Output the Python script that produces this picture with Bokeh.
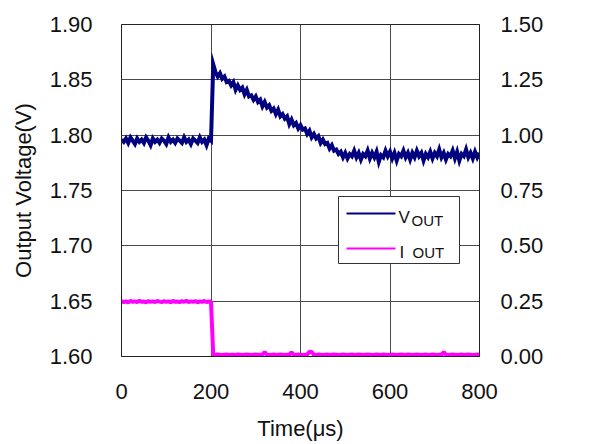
from bokeh.plotting import figure
from bokeh.models import (Range1d, LinearAxis, FixedTicker, NumeralTickFormatter,
                          BoxAnnotation, Label)
from bokeh.embed import file_html
from bokeh.resources import INLINE

# ---------------- data ----------------
time_us = list(range(0, 805, 5))

vout_v = [
    # 0 .. 200 us
    1.796, 1.794, 1.797, 1.793, 1.798, 1.795, 1.792, 1.797, 1.794, 1.796,
    1.793, 1.798, 1.795, 1.791, 1.797, 1.794, 1.796, 1.793, 1.797, 1.795,
    1.792, 1.798, 1.794, 1.796, 1.793, 1.797, 1.795, 1.793, 1.798, 1.794,
    1.796, 1.792, 1.797, 1.795, 1.793, 1.798, 1.794, 1.796, 1.791, 1.797,
    1.795,
    # 205 .. 485 us
    1.864, 1.857, 1.853, 1.856, 1.851, 1.853, 1.848, 1.849, 1.845, 1.848,
    1.841, 1.845, 1.841, 1.843, 1.837, 1.841, 1.835, 1.836, 1.832, 1.835,
    1.830, 1.832, 1.826, 1.830, 1.825, 1.827, 1.822, 1.824, 1.819, 1.823,
    1.817, 1.819, 1.815, 1.817, 1.810, 1.814, 1.809, 1.811, 1.806, 1.809,
    1.805, 1.806, 1.801, 1.804, 1.798, 1.801, 1.797, 1.799, 1.793, 1.796,
    1.792, 1.793, 1.788, 1.791, 1.786, 1.787, 1.783,
    # 490 .. 800 us
    1.785, 1.780, 1.784, 1.779, 1.783, 1.781, 1.786, 1.780, 1.784, 1.778,
    1.783, 1.781, 1.786, 1.779, 1.784, 1.780, 1.785, 1.776, 1.782, 1.780,
    1.786, 1.781, 1.785, 1.779, 1.784, 1.777, 1.783, 1.781, 1.786, 1.780,
    1.784, 1.778, 1.784, 1.780, 1.786, 1.781, 1.784, 1.777, 1.783, 1.780,
    1.785, 1.779, 1.784, 1.781, 1.787, 1.780, 1.784, 1.778, 1.783, 1.781,
    1.786, 1.779, 1.785, 1.777, 1.783, 1.781, 1.787, 1.780, 1.784, 1.779,
    1.785, 1.780, 1.784,
]

iout_a = [
    # 0 .. 200 us
    0.250, 0.246, 0.249, 0.245, 0.251, 0.247, 0.249, 0.246, 0.252, 0.247,
    0.248, 0.245, 0.250, 0.247, 0.249, 0.246, 0.251, 0.248, 0.246, 0.250,
    0.247, 0.249, 0.245, 0.251, 0.247, 0.248, 0.246, 0.250, 0.247, 0.252,
    0.246, 0.249, 0.247, 0.250, 0.245, 0.249, 0.247, 0.251, 0.246, 0.249,
    0.248,
    # 205 .. 800 us
    0.008, 0.007, 0.009, 0.008, 0.007, 0.008, 0.009, 0.007, 0.008, 0.008,
    0.007, 0.009, 0.008, 0.007, 0.008, 0.009, 0.008, 0.007, 0.008, 0.009,
    0.008, 0.007, 0.009, 0.020, 0.008, 0.007, 0.008, 0.009, 0.007, 0.008,
    0.009, 0.008, 0.007, 0.008, 0.009, 0.018, 0.008, 0.007, 0.009, 0.008,
    0.007, 0.008, 0.009, 0.022, 0.020, 0.008, 0.007, 0.009, 0.008, 0.007,
    0.008, 0.009, 0.007, 0.008, 0.009, 0.008, 0.007, 0.008, 0.009, 0.008,
    0.007, 0.008, 0.009, 0.007, 0.008, 0.009, 0.008, 0.007, 0.008, 0.009,
    0.008, 0.007, 0.008, 0.009, 0.008, 0.007, 0.009, 0.008, 0.007, 0.008,
    0.009, 0.008, 0.007, 0.008, 0.009, 0.008, 0.007, 0.009, 0.008, 0.007,
    0.008, 0.009, 0.008, 0.007, 0.008, 0.009, 0.007, 0.008, 0.009, 0.008,
    0.007, 0.008, 0.009, 0.020, 0.008, 0.007, 0.008, 0.009, 0.008, 0.007,
    0.008, 0.009, 0.007, 0.008, 0.009, 0.008, 0.007, 0.008, 0.009, 0.008,
]

x_ticks = [0, 200, 400, 600, 800]
v_ticks = [1.60, 1.65, 1.70, 1.75, 1.80, 1.85, 1.90]
i_ticks = [0.00, 0.25, 0.50, 0.75, 1.00, 1.25, 1.50]

x_label = "Time(μs)"
y_label = "Output Voltage(V)"

# ---------------- styling ----------------
FONT = "Liberation Sans"
TXT = "#111111"
NAVY = "#000080"
PINK = "#FF00FF"
GRID = "#4a4a4a"

X0, X1 = 0, 800
V0, V1 = 1.60, 1.90
I0, I1 = 0.0, 1.5

W, H = 588, 444
FL, FR, FT, FB = 121, 479, 24, 356   # frame edges on the page

p = figure(width=W, height=H, output_backend="svg", toolbar_location=None,
           x_range=Range1d(X0, X1), y_range=Range1d(V0, V1),
           min_border_left=FL, min_border_right=W - FR,
           min_border_top=FT, min_border_bottom=H - FB)
p.extra_y_ranges = {"cur": Range1d(I0, I1)}

p.outline_line_color = "#222222"
p.outline_line_width = 1
p.background_fill_color = "white"
p.border_fill_color = "white"

laxis = p.yaxis[0]
baxis = p.xaxis[0]
baxis.ticker = FixedTicker(ticks=x_ticks)
laxis.ticker = FixedTicker(ticks=v_ticks)
laxis.formatter = NumeralTickFormatter(format="0.00")
baxis.axis_label = x_label
laxis.axis_label = y_label

raxis = LinearAxis(y_range_name="cur", ticker=FixedTicker(ticks=i_ticks),
                   formatter=NumeralTickFormatter(format="0.00"))
p.add_layout(raxis, "right")

for ax in [baxis, laxis, raxis]:
    ax.major_tick_in = 0
    ax.major_tick_out = 0
    ax.minor_tick_in = 0
    ax.minor_tick_out = 0
    ax.axis_line_color = "#222222"
    ax.major_label_text_font = FONT
    ax.major_label_text_font_size = "22px"
    ax.major_label_text_color = TXT
    ax.axis_label_text_font = FONT
    ax.axis_label_text_font_size = "22px"
    ax.axis_label_text_font_style = "normal"
    ax.axis_label_text_color = TXT

baxis.major_label_standoff = 27
baxis.axis_label_standoff = 14
laxis.major_label_standoff = 29
laxis.axis_label_standoff = 11
raxis.major_label_standoff = 21

p.xgrid.ticker = FixedTicker(ticks=x_ticks)
p.ygrid.ticker = FixedTicker(ticks=v_ticks)
for g in [p.xgrid[0], p.ygrid[0]]:
    g.grid_line_color = GRID
    g.grid_line_width = 1
    g.grid_line_alpha = 1.0

# ---------------- data traces ----------------
p.line(time_us, iout_a, y_range_name="cur", line_color=PINK, line_width=4)
p.line(time_us, vout_v, line_color=NAVY, line_width=4, line_join="miter")

# ---------------- custom legend (subscript text) ----------------
def fx(px):
    return X0 + (px - FL) / (FR - FL) * (X1 - X0)

def fy(py):
    return V1 - (py - FT) / (FB - FT) * (V1 - V0)

p.add_layout(BoxAnnotation(left=fx(338), right=fx(459), top=fy(196), bottom=fy(263),
                           fill_color="white", fill_alpha=1.0,
                           line_color="#333333", line_width=1, line_alpha=1.0))
p.segment(x0=[fx(346)], y0=[fy(213)], x1=[fx(395)], y1=[fy(213)],
          line_color=NAVY, line_width=2, level="overlay")
p.segment(x0=[fx(346)], y0=[fy(248)], x1=[fx(395)], y1=[fy(248)],
          line_color=PINK, line_width=2, level="overlay")

legend_texts = [
    ("V", 398, 217, "17px"),
    ("OUT", 411, 220, "15px"),
    ("I", 399, 252, "17px"),
    ("OUT", 412, 252, "15px"),
]
for txt, px, py, fs in legend_texts:
    p.add_layout(Label(x=fx(px), y=fy(py), text=txt, text_font=FONT,
                       text_font_size=fs, text_color=TXT,
                       text_align="left", text_baseline="alphabetic"))

open("out.html", "w").write(file_html(p, INLINE))
